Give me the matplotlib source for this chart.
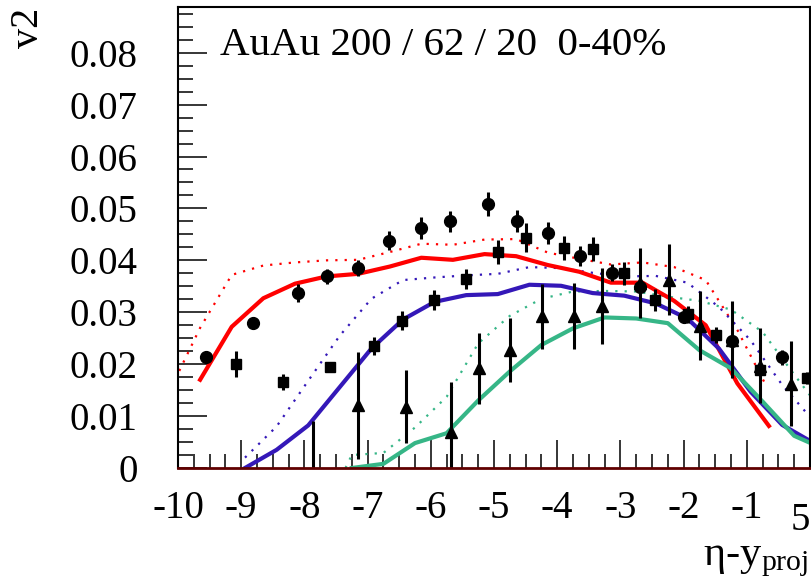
"""v2 vs eta - y_proj, AuAu 200 / 62 / 20 GeV, 0-40% centrality."""

import matplotlib
matplotlib.use("Agg")
import matplotlib.pyplot as plt
from matplotlib.ticker import MultipleLocator

plt.rcParams["font.family"] = ["Liberation Serif", "DejaVu Serif"]
plt.rcParams["mathtext.fontset"] = "stix"

# --- model curves (solid / dotted), one per energy ---
red_x = [-9.65, -9.15, -8.65, -8.15, -7.65, -7.15, -6.65, -6.15, -5.65, -5.15,
         -4.65, -4.15, -3.65, -3.15, -2.65, -2.15, -1.65, -1.15, -0.65]
red_solid = [0.0170, 0.0272, 0.0327, 0.0355, 0.0369, 0.0374, 0.0388, 0.0405, 0.0401, 0.0412,
             0.0408, 0.0391, 0.0378, 0.0357, 0.0357, 0.0322, 0.0275, 0.0163, 0.0081]
red_dot_x = [-9.98, -9.65, -9.15, -8.65, -8.15, -7.65, -7.15, -6.65, -6.15, -5.65, -5.15,
             -4.65, -4.15, -3.65, -3.15, -2.65, -2.15, -1.65, -1.15, -0.70]
red_dotted = [0.0187, 0.0270, 0.0372, 0.0390, 0.0396, 0.0400, 0.0401, 0.0416, 0.0432, 0.0430, 0.0440,
              0.0441, 0.0415, 0.0403, 0.0392, 0.0396, 0.0387, 0.0362, 0.0266, 0.0160]

blue_x = [-8.94, -8.44, -7.94, -7.44, -6.94, -6.44, -5.94, -5.44, -4.94, -4.44,
          -3.94, -3.44, -2.94, -2.44, -1.94, -1.44, -0.94, -0.44, 0.06]
blue_solid = [0.0000, 0.0035, 0.0082, 0.0156, 0.0230, 0.0286, 0.0320, 0.0333, 0.0335, 0.0353,
              0.0351, 0.0337, 0.0332, 0.0317, 0.0288, 0.0230, 0.0147, 0.0083, 0.0048]
blue_dotted = [0.0020, 0.0080, 0.0168, 0.0255, 0.0326, 0.0362, 0.0367, 0.0371, 0.0374, 0.0387,
               0.0385, 0.0376, 0.0369, 0.0370, 0.0357, 0.0310, 0.0246, 0.0160, 0.0090]

green_x = [-7.25, -6.75, -6.25, -5.75, -5.25, -4.75, -4.25, -3.75, -3.25, -2.75,
           -2.25, -1.75, -1.25, -0.75, -0.25, 0.25]
green_solid = [0.0000, 0.0008, 0.0048, 0.0067, 0.0130, 0.0186, 0.0237, 0.0269, 0.0290, 0.0288,
               0.0279, 0.0227, 0.0192, 0.0128, 0.0062, 0.0035]
green_dot_x = [-7.35] + green_x
green_dotted = [0.0000, 0.0025, 0.0029, 0.0078, 0.0137, 0.0240, 0.0293, 0.0326, 0.0340, 0.0341, 0.0340,
                0.0330, 0.0322, 0.0305, 0.0262, 0.0180, 0.0100]

# --- data points ---
circ_x = [-9.56, -8.81, -8.10, -7.65, -7.15, -6.66, -6.16, -5.69, -5.09,
          -4.64, -4.14, -3.64, -3.14, -2.69, -2.00, -1.23, -0.45]
circ_y = [0.0213, 0.0280, 0.0337, 0.0369, 0.0385, 0.0438, 0.0462, 0.0475, 0.0509,
          0.0476, 0.0453, 0.0408, 0.0376, 0.0348, 0.0290, 0.0245, 0.0213]
circ_err = [0.0008, 0.0008, 0.0017, 0.0014, 0.0016, 0.0018, 0.0021, 0.0021, 0.0023,
            0.0021, 0.0021, 0.0019, 0.0016, 0.0012, 0.0010, 0.0012, 0.0014]

sq_x = [-9.08, -8.34, -7.60, -6.90, -6.45, -5.95, -5.45, -4.94, -4.49,
        -3.89, -3.44, -2.95, -2.45, -1.93, -1.49, -0.79, -0.04]
sq_y = [0.0200, 0.0166, 0.0195, 0.0235, 0.0284, 0.0324, 0.0364, 0.0416, 0.0444,
        0.0423, 0.0422, 0.0375, 0.0324, 0.0296, 0.0256, 0.0189, 0.0173]
sq_err = [0.0025, 0.0016, 0.0010, 0.0017, 0.0018, 0.0019, 0.0019, 0.0024, 0.0027,
          0.0023, 0.0023, 0.0022, 0.0021, 0.0017, 0.0016, 0.0010, 0.0012]

tri_x = [-7.87, -7.15, -6.40, -5.68, -5.23, -4.74, -4.24, -3.74, -3.29,
         -2.69, -2.23, -1.74, -1.23, -0.79, -0.30]
tri_y = [-0.0010, 0.0121, 0.0118, 0.0070, 0.0192, 0.0227, 0.0292, 0.0293, 0.0312,
         0.0356, 0.0363, 0.0274, 0.0247, 0.0197, 0.0162]
tri_err = [0.0101, 0.0103, 0.0070, 0.0096, 0.0068, 0.0061, 0.0062, 0.0064, 0.0074,
           0.0067, 0.0068, 0.0066, 0.0074, 0.0072, 0.0082]

RED = "#ff0000"
BLUE = "#3418b8"
GREEN = "#36b687"
DOTS = (1.0, 3.2)

fig = plt.figure(figsize=(8.11, 5.88), dpi=100)
ax = fig.add_axes([178 / 811, 1 - 468 / 588, 632 / 811, 461 / 588])

ax.plot(red_dot_x, red_dotted, color=RED, lw=1.6, dashes=DOTS)
ax.plot(blue_x, blue_dotted, color=BLUE, lw=1.6, dashes=DOTS)
ax.plot(green_dot_x, green_dotted, color=GREEN, lw=1.6, dashes=DOTS)
ax.plot(red_x, red_solid, color=RED, lw=3)
ax.plot(blue_x, blue_solid, color=BLUE, lw=3)
ax.plot(green_x, green_solid, color=GREEN, lw=3)

ax.errorbar(tri_x, tri_y, yerr=tri_err, fmt="^", color="black", ms=8, elinewidth=2.2, capsize=0)
ax.errorbar(sq_x, sq_y, yerr=sq_err, fmt="s", color="black", ms=7.5, elinewidth=2.2, capsize=0)
ax.errorbar(circ_x, circ_y, yerr=circ_err, fmt="o", color="black", ms=8.5, elinewidth=2.2, capsize=0)

ax.set_xlim(-10, 0)
ax.set_ylim(0, 0.0888)
ax.xaxis.set_major_locator(MultipleLocator(1))
ax.xaxis.set_minor_locator(MultipleLocator(0.25))
ax.yaxis.set_major_locator(MultipleLocator(0.01))
ax.yaxis.set_minor_locator(MultipleLocator(0.0025))
ax.set_xticks(range(-10, 0))
ax.set_xticklabels([str(v) for v in range(-10, 0)])
ax.set_yticks([0.01 * i for i in range(9)])
ax.set_yticklabels(["0"] + ["%.2f" % (0.01 * i) for i in range(1, 9)])

ax.tick_params(which="both", direction="in", top=False, right=False, labelsize=28, width=1.1)
ax.tick_params(axis="y", which="major", length=21, pad=29)
ax.tick_params(axis="y", which="minor", length=11)
ax.tick_params(axis="x", which="major", length=20, pad=16)
ax.tick_params(axis="x", which="minor", length=10)

for side in ["left", "top", "right"]:
    ax.spines[side].set_linewidth(1.5)
ax.spines["bottom"].set_color("#600000")
ax.spines["bottom"].set_linewidth(2)

ax.text((220 - 178) / 632, 1 - 48 / 461, "AuAu 200 / 62 / 20  0-40%", transform=ax.transAxes,
        fontsize=29.5, va="baseline", ha="left")

fig.text(28 / 811, 1 - 8 / 588, "v2", rotation=90, ha="center", va="top", fontsize=29)
fig.text(808 / 811, 1 - 565 / 588, "η-y$_{\\mathregular{proj}}$", ha="right", va="baseline", fontsize=30.5)
fig.text(800 / 811, 1 - 530 / 588, "5", ha="center", va="baseline", fontsize=28)

fig.savefig("out.png", dpi=100)
